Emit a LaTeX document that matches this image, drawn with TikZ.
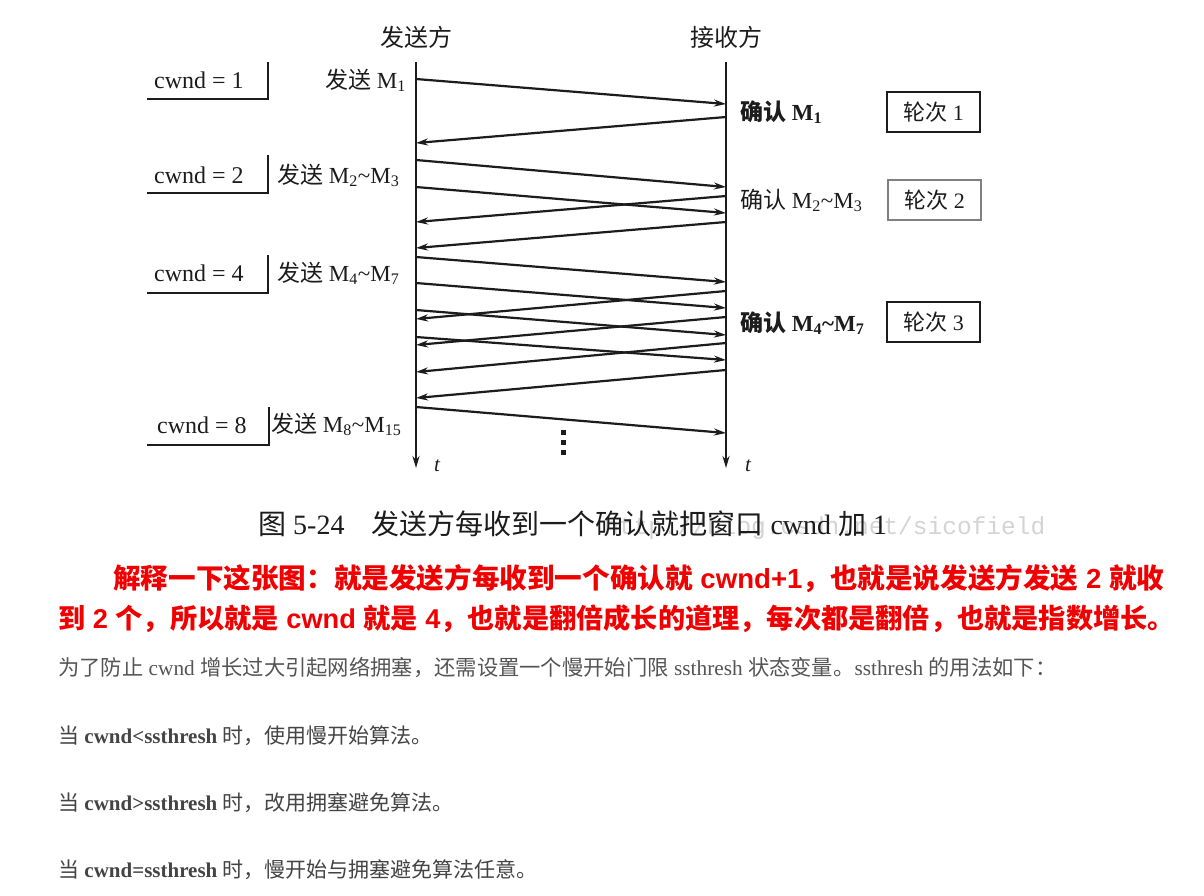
\documentclass[tikz,border=0pt]{standalone}
\usepackage{fontspec}
\setmainfont{Liberation Serif}
\setsansfont{Liberation Sans}
\setmonofont{Liberation Mono}
\newfontfamily\cjkR{Noto Sans CJK SC}
\usetikzlibrary{arrows.meta}
% automatic switch to the CJK font for CJK characters
\XeTeXinterchartokenstate=1
\newXeTeXintercharclass\CJKcls
\newcount\tmpc
\tmpc="4E00 \loop\ifnum\tmpc<"A000 \XeTeXcharclass\tmpc=\CJKcls \advance\tmpc by 1 \repeat
\tmpc="3000 \loop\ifnum\tmpc<"3040 \XeTeXcharclass\tmpc=\CJKcls \advance\tmpc by 1 \repeat
\tmpc="FF00 \loop\ifnum\tmpc<"FF61 \XeTeXcharclass\tmpc=\CJKcls \advance\tmpc by 1 \repeat
\XeTeXinterchartoks 0 \CJKcls = {\begingroup\cjkR}
\XeTeXinterchartoks 4095 \CJKcls = {\begingroup\cjkR}
\XeTeXinterchartoks \CJKcls 0 = {\endgroup}
\XeTeXinterchartoks \CJKcls 4095 = {\endgroup}
\newcommand\fsz[1]{\fontsize{#1}{#1}\selectfont}
\definecolor{ink}{HTML}{1C1C1C}
\definecolor{redtxt}{HTML}{F00000}
\definecolor{graytxt}{HTML}{555555}
\definecolor{darktxt}{HTML}{444444}
\definecolor{wmark}{HTML}{D4D4D4}
\tikzset{
  lifeline/.style={line width=2.2pt, draw=ink, -{Stealth[length=12pt,width=7pt]}},
  msg/.style={line width=2.2pt, draw=ink, -{Stealth[length=12pt,width=7pt]}},
  bracket/.style={line width=2pt, draw=ink},
  txt/.style={inner sep=0pt, text=ink, anchor=base west},
  txte/.style={inner sep=0pt, text=ink, anchor=base east},
  roundbox/.style={draw=ink, line width=2pt, minimum width=93pt, minimum height=40pt, inner sep=0pt, text=ink, font=\fsz{22}},
  roundboxlight/.style={roundbox, draw=gray, line width=1.2pt},
  para/.style={inner sep=0pt, anchor=base west},
}
\begin{document}
\begin{tikzpicture}[x=1pt,y=-1pt]
\fill[white] (0,0) rectangle (1204,895);
\useasboundingbox (0,0) rectangle (1204,895);

% headers
\node[inner sep=0pt, text=ink, font=\fsz{24}, anchor=base] (snd) at (416,46) {发送方};
\node[inner sep=0pt, text=ink, font=\fsz{24}, anchor=base] (rcv) at (726,46) {接收方};

% lifelines
\coordinate (Stop) at (416,62); \coordinate (Sbot) at (416,468);
\coordinate (Rtop) at (726,62); \coordinate (Rbot) at (726,468);
\draw[lifeline] (Stop) -- (Sbot);
\draw[lifeline] (Rtop) -- (Rbot);
\node[txt, font=\fsz{21}\itshape] (t1) at (434,471) {t};
\node[txt, font=\fsz{21}\itshape] (t2) at (745,471) {t};

% data segments (sender -> receiver)
\foreach \i/\a/\b in {1/79/104, 2/160/187, 3/187/213, 4/257/282, 5/283/308, 6/310/335, 7/337/360, 8/407/433}{
  \coordinate (ms\i) at (416,\a);
  \coordinate (mr\i) at (726,\b);
  \draw[msg] (ms\i) -- (mr\i);
}
% acknowledgements (receiver -> sender)
\foreach \i/\a/\b in {1/117/143, 2/196/222, 3/222/248, 4/291/319, 5/317/345, 6/343/372, 7/370/398}{
  \coordinate (ar\i) at (726,\a);
  \coordinate (as\i) at (416,\b);
  \draw[msg] (ar\i) -- (as\i);
}

% continuation dots
\foreach \y in {430,440,450}{\fill[ink] (561,\y) rectangle (566,\y+5);}

% cwnd labels
\node[txt, font=\fsz{24}] (c1) at (154,88) {cwnd = 1};
\draw[bracket] (147,99) -- (268,99) -- (268,62);
\node[txt, font=\fsz{24}] (c2) at (154,183) {cwnd = 2};
\draw[bracket] (147,193) -- (268,193) -- (268,155);
\node[txt, font=\fsz{24}] (c4) at (154,281) {cwnd = 4};
\draw[bracket] (147,293) -- (268,293) -- (268,255);
\node[txt, font=\fsz{24}] (c8) at (157,433) {cwnd = 8};
\draw[bracket] (147,445) -- (269,445) -- (269,407);

% send labels
\node[txte, font=\fsz{23}] (s1) at (406,88) {发送 M\textsubscript{1}};
\node[txt, font=\fsz{23}] (s2) at (277,183) {发送 M\textsubscript{2}\textasciitilde M\textsubscript{3}};
\node[txt, font=\fsz{23}] (s4) at (277,281) {发送 M\textsubscript{4}\textasciitilde M\textsubscript{7}};
\node[txt, font=\fsz{23}] (s8) at (271,432) {发送 M\textsubscript{8}\textasciitilde M\textsubscript{15}};

% ack labels
\node[txt, font=\fsz{23}\bfseries] (k1) at (740,120) {确认 M\textsubscript{1}};
\node[txt, font=\fsz{23}] (k2) at (740,208) {确认 M\textsubscript{2}\textasciitilde M\textsubscript{3}};
\node[txt, font=\fsz{23}\bfseries] (k3) at (740,331) {确认 M\textsubscript{4}\textasciitilde M\textsubscript{7}};

% round boxes
\node[roundbox] (r1) at (933.5,112) {轮次 1};
\node[roundboxlight] (r2) at (934.5,200) {轮次 2};
\node[roundbox] (r3) at (933.5,322) {轮次 3};

% caption with watermark
\node[para, text=wmark, font=\ttfamily\fsz{24.5}] (wm) at (604,534) {http://blog.csdn.net/sicofield};
\node[para, text=ink, font=\fsz{28}] (cap) at (258,534) {图 5-24\hspace{27pt}发送方每收到一个确认就把窗口 cwnd 加 1};

% red explanation
\node[para, text=redtxt, font=\sffamily\bfseries\fsz{27.6}] (red1) at (113,588) {解释一下这张图：就是发送方每收到一个确认就 cwnd+1，也就是说发送方发送 2 就收};
\node[para, text=redtxt, font=\sffamily\bfseries\fsz{27.2}] (red2) at (58,628) {到 2 个，所以就是 cwnd 就是 4，也就是翻倍成长的道理，每次都是翻倍，也就是指数增长。};

% gray notes
\node[para, text=graytxt, font=\fsz{21.3}] (g1) at (58,675) {为了防止 cwnd 增长过大引起网络拥塞，还需设置一个慢开始门限 ssthresh 状态变量。ssthresh 的用法如下：};
\node[para, text=darktxt, font=\fsz{21}] (g2) at (58,743) {当 {\bfseries cwnd<ssthresh} 时，使用慢开始算法。};
\node[para, text=darktxt, font=\fsz{21}] (g3) at (58,810) {当 {\bfseries cwnd>ssthresh} 时，改用拥塞避免算法。};
\node[para, text=darktxt, font=\fsz{21}] (g4) at (58,877) {当 {\bfseries cwnd=ssthresh} 时，慢开始与拥塞避免算法任意。};
\end{tikzpicture}
\end{document}
